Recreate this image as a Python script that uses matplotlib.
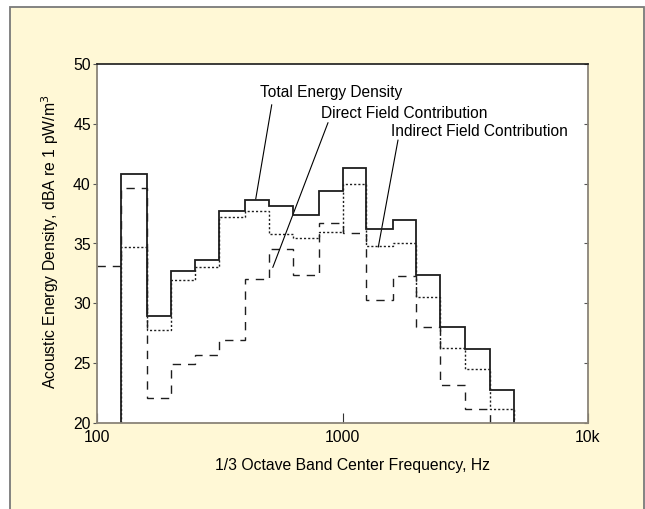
import numpy as np
import matplotlib
matplotlib.use('Agg')
import matplotlib.pyplot as plt
from matplotlib.patches import Rectangle

plt.rcParams['font.family'] = ['Liberation Sans', 'DejaVu Sans']

# 1/3 octave band edges (steps start at each centre frequency)
total_edges = [125, 160, 200, 250, 315, 400, 500, 630, 800, 1000, 1250, 1600, 2000, 2500, 3150, 4000, 5000]
total_db = [40.8, 28.9, 32.7, 33.6, 37.7, 38.6, 38.1, 37.35, 39.4, 41.3, 36.2, 37.0, 32.4, 28.05, 26.2, 22.75]

direct_edges = [100, 125, 160, 200, 250, 315, 400, 500, 630, 800, 1000, 1250, 1600, 2000, 2500, 3150, 4000]
direct_db = [33.1, 39.6, 22.1, 24.9, 25.65, 26.9, 32.0, 34.5, 32.4, 36.7, 35.85, 30.3, 32.3, 28.0, 23.2, 21.2]

indirect_edges = [125, 160, 200, 250, 315, 400, 500, 630, 800, 1000, 1250, 1600, 2000, 2500, 3150, 4000, 5000]
indirect_db = [34.7, 27.8, 31.95, 33.0, 37.25, 37.7, 35.8, 35.5, 36.0, 40.0, 34.8, 35.05, 30.5, 26.25, 24.5, 21.15]

fig = plt.figure(figsize=(6.45, 5.09), dpi=100, facecolor='white')
# yellow panel behind the chart
fig.patches.append(Rectangle((10 / 645, -0.02), 634 / 645, 1.02 - 7 / 509,
                             transform=fig.transFigure, facecolor='#fff8d6',
                             edgecolor='#7a7a7a', lw=1.3, zorder=-1))

ax = fig.add_axes([97 / 645, 1 - 423 / 509, 491 / 645, 359 / 509])
ax.set_facecolor('white')

line_col = '#1e1e1e'
dash = (0, (6, 5))
ax.stairs(total_db, total_edges, baseline=20, color=line_col, lw=1.3, zorder=4)
# direct field starts at the left edge, so only its right end drops to 20
ax.stairs(direct_db, direct_edges, baseline=None, color=line_col, lw=1.0,
          linestyle=dash, zorder=3)
ax.vlines(direct_edges[-1], 20, direct_db[-1], color=line_col, lw=1.0,
          linestyle=dash, zorder=3)
ax.stairs(indirect_db, indirect_edges, baseline=20, color=line_col, lw=1.0,
          linestyle=(0, (1.5, 1.5)), zorder=3)

ax.set_xscale('log')
ax.set_xlim(100, 10000)
ax.set_ylim(20, 50)
ax.set_xticks([100, 1000, 10000])
ax.set_xticklabels(['100', '1000', '10k'])
ax.xaxis.set_minor_locator(matplotlib.ticker.NullLocator())
ax.set_yticks([20, 25, 30, 35, 40, 45, 50])

ax.tick_params(axis='y', which='both', left=True, right=True, direction='out',
               length=3, width=0.8, color='#555555', labelsize=11.3, pad=1.5)
for t in ax.yaxis.get_major_ticks():
    t.tick2line.set_marker(matplotlib.lines.TICKLEFT)
ax.tick_params(axis='x', direction='in', length=7, width=0.8, color='#333333',
               labelsize=11.3, pad=5)

for side in ['left', 'bottom', 'right']:
    ax.spines[side].set_color('#8a8478')
    ax.spines[side].set_linewidth(1.3)
ax.spines['top'].set_color('#1a1a1a')
ax.spines['top'].set_linewidth(1.2)
for sp in ax.spines.values():
    sp.set_zorder(6)

ax.set_xlabel('1/3 Octave Band Center Frequency, Hz', fontsize=11.3)
ax.xaxis.set_label_coords(0.52, -0.097)
ax.set_ylabel('Acoustic Energy Density, dBA re 1 pW/m$^3$', fontsize=11.3)
ax.yaxis.set_label_coords(-0.074, 0.505)

# labels with leader lines
fs = 11.2
ax.text(900, 47.6, 'Total Energy Density', ha='center', va='center', fontsize=fs)
ax.annotate('', xy=(443, 38.7), xytext=(515, 46.6),
            arrowprops=dict(arrowstyle='-', lw=0.8, color='black', shrinkA=0, shrinkB=0))
ax.text(1780, 45.9, 'Direct Field Contribution', ha='center', va='center', fontsize=fs)
ax.annotate('', xy=(520, 33.0), xytext=(873, 45.1),
            arrowprops=dict(arrowstyle='-', lw=0.8, color='black', shrinkA=0, shrinkB=0))
ax.text(3600, 44.4, 'Indirect Field Contribution', ha='center', va='center', fontsize=fs)
ax.annotate('', xy=(1399, 34.7), xytext=(1683, 43.65),
            arrowprops=dict(arrowstyle='-', lw=0.8, color='black', shrinkA=0, shrinkB=0))

fig.savefig('out.png', dpi=100, facecolor=fig.get_facecolor())
